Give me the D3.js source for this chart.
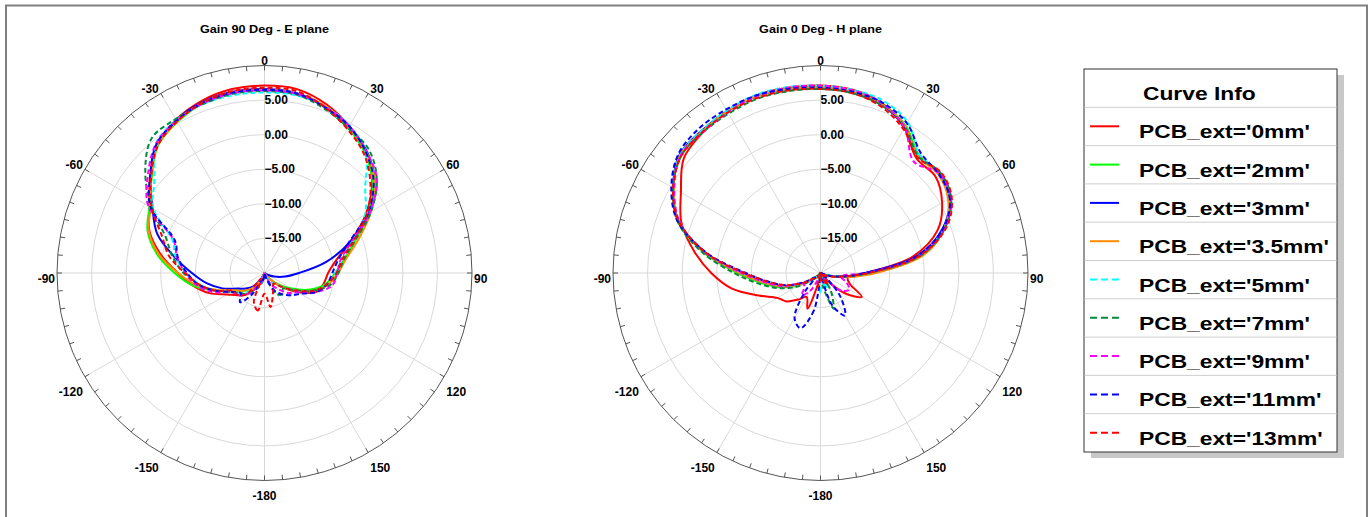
<!DOCTYPE html>
<html>
<head>
<meta charset="utf-8">
<script src="https://cdn.jsdelivr.net/npm/d3@7"></script>
<style>
  html, body { margin: 0; padding: 0; background: #fff; }
  svg { display: block; font-family: "Liberation Sans", Arial, Helvetica, sans-serif; }
</style>
</head>
<body>
<svg id="chart" width="1370" height="517"></svg>
<script>
// Angles (deg) of the sampled points, 0 at top, clockwise positive
const angles = [-180, -170, -160, -150, -140, -130, -120, -110, -100, -90, -80, -70,
                -60, -50, -40, -30, -20, -10, 0, 10, 20, 30, 40, 50,
                60, 70, 80, 90, 100, 110, 120, 130, 140, 150, 160, 170];

// Gain (dB) - E plane, phi = 90 deg
const ePlane0mm   = [-25,-21,-20,-17.5,-16,-15,-13.8,-11.5,-9.5,-7.5,-4.8,-2.3,-0.8,1.6,4.2,5.6,6.5,7.0,7.1,7.0,6.0,4.5,2.8,0.3,-3.1,-6.8,-9.5,-10.8,-11.3,-12,-14.5,-17,-19,-21,-22,-23];
const ePlane2mm   = [-24,-22,-20,-18.5,-17,-16,-15,-12.5,-9.5,-7,-4.2,-2,-0.8,1.3,4.0,5.2,6.1,6.5,6.5,6.3,5.5,4.2,2.6,0.4,-2.6,-6,-8.2,-9.8,-11,-13,-15.5,-17.5,-19,-21,-22,-23];
const ePlane3mm   = [-24,-22,-21,-19,-17.5,-16.5,-15.5,-13.5,-11.5,-9.5,-6.8,-3.5,-1.3,1.5,4.2,5.5,6.3,6.6,6.6,6.4,5.6,4.4,3.0,0.8,-2.5,-6.8,-11,-15,-17,-18.5,-19.5,-21,-22,-23,-24,-25];
const ePlane3p5mm = [-24,-22,-20.5,-18.5,-17,-16,-15,-12.8,-10,-7.5,-4.5,-2.2,-1,1.4,4.1,5.3,6.2,6.5,6.5,6.4,5.7,4.4,2.9,0.8,-2.2,-5.5,-8,-9.4,-10.6,-12.5,-15,-17,-19,-21,-22,-23];
const ePlane5mm   = [-23,-20,-18.5,-17.5,-16.5,-15.5,-14.5,-12.5,-10.5,-8.7,-7,-5.8,-1.5,0.8,4.4,5.5,6.0,6.1,6.1,6.1,5.6,4.6,2.8,-1.0,-3.2,-6.5,-8.6,-9.8,-10.8,-12.5,-15,-17,-18,-19,-20,-21];
const ePlane7mm   = [-22,-19,-18,-17,-16,-15.5,-14.5,-12.5,-10.3,-8.3,-6.5,-4.8,-1.2,2.5,5.4,5.7,6.0,6.3,6.3,6.2,5.3,4.2,3.4,1.2,-2.2,-6,-8.3,-9.3,-10.3,-12.5,-15,-16.5,-16,-16.5,-19,-20];
const ePlane9mm   = [-23,-20,-18.5,-17.5,-16,-15,-14.5,-12,-10,-8.6,-7.2,-6.0,-0.6,2.0,4.4,5.4,6.1,6.4,6.4,6.3,5.6,4.5,2.9,1.2,-2.4,-6.5,-8.8,-9.5,-10,-12,-14.5,-15.5,-17,-18,-19.5,-20];
const ePlane11mm  = [-22,-19,-19,-16.5,-14.5,-15.5,-14.5,-12.5,-10.3,-8.8,-7.3,-6.2,-1.0,1.6,4.3,5.4,6.2,6.5,6.5,6.4,5.5,4.5,2.8,0.6,-2.8,-7,-9.2,-10.2,-10.8,-12,-14,-15,-16,-17,-19,-21];
const ePlane13mm  = [-17,-14.5,-15.5,-19,-16,-15,-14.8,-12.5,-10.4,-8.5,-6.0,-4.2,-1.2,1.4,4.0,5.3,6.2,6.7,6.8,6.7,5.5,4.0,2.4,0.0,-2.9,-6.3,-8.6,-9.6,-10.8,-12.5,-15,-17,-18,-17.5,-16.5,-15];

// Gain (dB) - H plane, phi = 0 deg
const hPlane0mm   = [-21,-19,-14.5,-16,-15,-13.6,-12.8,-10.5,-7,-4.2,-1.4,1.4,3.3,5.8,6.5,7.0,7.3,7.2,7.1,6.9,6.1,4.2,1.6,1.7,0.3,-2.0,-6.5,-13.5,-16,-15.5,-13.1,-15.5,-19,-21,-22,-22];
const hPlane2mm   = [-22,-21,-20,-20,-20,-19,-16.5,-14,-11.5,-8,-2.8,2.0,4.6,6.4,6.7,7.0,7.2,7.0,6.8,6.6,6.0,4.6,2.2,2.5,1.6,-1.0,-5.5,-13,-17,-19,-20,-21,-21,-22,-22,-22];
const hPlane3mm   = [-22,-21,-20,-20,-19.5,-18.5,-16.8,-14.3,-12,-8.6,-3.1,1.8,4.6,6.6,6.8,7.0,7.2,7.0,6.8,6.5,5.9,4.4,2.0,2.4,1.5,-1.2,-5.8,-13.5,-17,-19,-20,-21,-21,-21,-22,-22];
const hPlane3p5mm = [-22,-21,-20.5,-20,-19.5,-18.5,-16.6,-14.2,-11.8,-8.3,-3.0,1.9,4.5,6.5,6.7,7.0,7.2,7.0,6.8,6.6,6.0,4.5,2.0,2.2,1.3,-0.9,-4.8,-12,-16.5,-19,-20,-21,-21,-22,-22,-22];
const hPlane5mm   = [-17,-19,-20,-20,-19.5,-18.5,-16.8,-14.5,-12.2,-8.6,-3.2,1.7,4.5,6.5,6.8,7.1,7.4,7.3,7.1,6.9,6.5,5.2,2.3,2.5,1.6,-1.0,-5.6,-13,-17,-19,-19,-20,-20,-18.5,-17.5,-19];
const hPlane7mm   = [-20,-21,-20,-20,-19.5,-18.5,-16,-13.6,-11,-7.5,-2.6,2.0,4.6,6.3,6.5,6.6,6.8,6.7,6.6,6.4,5.8,4.4,2.0,2.6,1.8,-0.8,-5.2,-13,-17,-19,-20,-20,-20,-17,-14.5,-18];
const hPlane9mm   = [-20,-20,-19,-17,-15.8,-17,-17,-14.4,-12,-8.6,-3.1,1.7,4.4,6.4,6.5,6.8,7.2,7.2,7.1,6.8,6.1,4.3,1.0,2.4,1.7,-1.0,-5.6,-13.5,-17,-16,-15.2,-16,-18.5,-20,-21,-21];
const hPlane11mm  = [-21,-14.5,-11.5,-12.5,-16.5,-19,-17.5,-14.8,-12.5,-9.2,-3.3,2.0,4.9,6.8,7.3,7.3,7.3,7.0,6.8,6.6,6.2,5.0,2.6,2.3,1.6,-1.1,-5.8,-13.5,-17,-19,-20,-19,-15.5,-12.9,-15,-20];
const hPlane13mm  = [-19,-18,-19,-19.5,-19.5,-19,-17.2,-14.8,-12.5,-9,-3.2,1.8,4.6,6.3,6.6,6.8,6.9,6.8,6.6,6.4,5.6,4.0,1.8,2.7,1.9,-0.6,-5.4,-13,-17,-18.5,-19.5,-20,-19,-18,-19,-20];

// Series info
const seriesNames  = ["PCB_ext='0mm'", "PCB_ext='2mm'", "PCB_ext='3mm'", "PCB_ext='3.5mm'", "PCB_ext='5mm'",
                      "PCB_ext='7mm'", "PCB_ext='9mm'", "PCB_ext='11mm'", "PCB_ext='13mm'"];
const seriesColors = ["#ff0000", "#00ff00", "#0000ff", "#ff8c00", "#00ffff", "#008c3c", "#ff00ff", "#0000ff", "#ff0000"];
const seriesDashed = [false, false, false, false, true, true, true, true, true];

// Axis ticks
const ringTicks   = [-15, -10, -5, 0, 5];
const angleLabels = [0, 30, 60, 90, 120, 150, 180, -150, -120, -90, -60, -30];
const angleText   = ["0", "30", "60", "90", "120", "150", "-180", "-150", "-120", "-90", "-60", "-30"];

const ePlaneSeries = [ePlane0mm, ePlane2mm, ePlane3mm, ePlane3p5mm, ePlane5mm, ePlane7mm, ePlane9mm, ePlane11mm, ePlane13mm];
const hPlaneSeries = [hPlane0mm, hPlane2mm, hPlane3mm, hPlane3p5mm, hPlane5mm, hPlane7mm, hPlane9mm, hPlane11mm, hPlane13mm];

// Options
const R = 207.5;          // outer circle radius
const centerY = 273;
const rDomain = [-20, 10];
const gridColor = "#d9d9d9";
const axisColor = "#555";

const svg = d3.select("#chart");
const rad = d => d * Math.PI / 180;

// Outer frame (open at the bottom)
svg.append("path")
  .attr("d", "M6,520V5.5H1367V520")
  .attr("fill", "none")
  .attr("stroke", "#808080")
  .attr("stroke-width", 2);

const drawPolar = (cx, title, series) => {
  const r = d3.scaleLinear().domain(rDomain).range([0, R]).clamp(true);
  const g = svg.append("g").attr("transform", `translate(${cx},${centerY})`);

  // Title
  svg.append("text")
    .attr("transform", `translate(${cx},32.5) scale(1.1,1)`)
    .attr("text-anchor", "middle")
    .attr("font-size", 11.5)
    .attr("font-weight", "bold")
    .text(title);

  // Grid rings and spokes
  g.append("g").selectAll("circle")
    .data(ringTicks)
    .join("circle")
      .attr("r", d => r(d))
      .attr("fill", "none")
      .attr("stroke", gridColor);
  g.append("g").selectAll("line")
    .data(angleLabels)
    .join("line")
      .attr("x2", d => R * Math.sin(rad(d)))
      .attr("y2", d => -R * Math.cos(rad(d)))
      .attr("stroke", gridColor);

  // Outer circle and 5 deg ticks
  g.append("circle")
    .attr("r", R)
    .attr("fill", "none")
    .attr("stroke", axisColor);
  g.append("g").selectAll("line")
    .data(d3.range(0, 360, 5))
    .join("line")
      .attr("x1", d => R * Math.sin(rad(d)))
      .attr("y1", d => -R * Math.cos(rad(d)))
      .attr("x2", d => (R - 5) * Math.sin(rad(d)))
      .attr("y2", d => -(R - 5) * Math.cos(rad(d)))
      .attr("stroke", axisColor);

  // Angle labels
  g.append("g")
    .attr("font-size", 12)
    .attr("font-weight", "bold")
    .selectAll("text")
    .data(angleLabels)
    .join("text")
      .attr("x", d => {
        const s = Math.sin(rad(d));
        return R * s + (s > 0.01 ? 2 : s < -0.01 ? -2 : 0);
      })
      .attr("y", d => {
        const c = Math.cos(rad(d));
        return -R * c + (c > 0.01 ? -0.5 : c < -0.01 ? 19 : 9.5);
      })
      .attr("text-anchor", d => {
        const s = Math.sin(rad(d));
        return s > 0.01 ? "start" : s < -0.01 ? "end" : "middle";
      })
      .text((d, i) => angleText[i]);

  // Radial labels
  g.append("g")
    .attr("font-size", 12)
    .attr("font-weight", "bold")
    .selectAll("text")
    .data(ringTicks)
    .join("text")
      .attr("x", 0)
      .attr("y", d => -r(d) + 4)
      .text(d => d3.format(".2f")(d));

  // Curves
  const line = d3.lineRadial()
    .angle(d => rad(d[0]))
    .radius(d => r(d[1]))
    .curve(d3.curveCatmullRomClosed.alpha(0.5));

  g.append("g").selectAll("path")
    .data(series)
    .join("path")
      .attr("d", vals => line(vals.map((v, i) => [angles[i], v])))
      .attr("fill", "none")
      .attr("stroke", (d, i) => seriesColors[i])
      .attr("stroke-width", 2)
      .attr("stroke-dasharray", (d, i) => seriesDashed[i] ? "5,3" : null)
      .attr("stroke-linejoin", "round");
};

drawPolar(264.5, "Gain 90 Deg - E plane", ePlaneSeries);
drawPolar(820.5, "Gain 0 Deg - H plane", hPlaneSeries);

// Legend
const legend = {x: 1084, y: 69, w: 253, rowH: 38.3};
const lg = svg.append("g");
lg.append("rect")
  .attr("x", legend.x + 7).attr("y", legend.y + 6)
  .attr("width", legend.w).attr("height", legend.rowH * 10)
  .attr("fill", "#c8c8c8");
lg.append("rect")
  .attr("x", legend.x).attr("y", legend.y)
  .attr("width", legend.w).attr("height", legend.rowH * 10)
  .attr("fill", "#fff")
  .attr("stroke", "#333");
lg.selectAll("line.sep")
  .data(d3.range(1, 10))
  .join("line")
    .attr("class", "sep")
    .attr("x1", legend.x + 0.5).attr("x2", legend.x + legend.w - 0.5)
    .attr("y1", d => legend.y + d * legend.rowH)
    .attr("y2", d => legend.y + d * legend.rowH)
    .attr("stroke", "#cfcfcf");
lg.append("text")
  .attr("transform", `translate(${legend.x + 59},${legend.y + 31}) scale(1.2,1)`)
  .attr("font-size", 19)
  .attr("font-weight", "bold")
  .text("Curve Info");

const rows = lg.selectAll("g.row")
  .data(seriesNames)
  .join("g")
    .attr("class", "row")
    .attr("transform", (d, i) => `translate(0,${legend.y + (i + 1) * legend.rowH})`);
rows.append("line")
  .attr("x1", legend.x + 6).attr("x2", legend.x + 35)
  .attr("y1", 19).attr("y2", 19)
  .attr("stroke", (d, i) => seriesColors[i])
  .attr("stroke-width", 2)
  .attr("stroke-dasharray", (d, i) => seriesDashed[i] ? "7,4" : null);
rows.append("text")
  .attr("transform", `translate(${legend.x + 55},31) scale(1.2,1)`)
  .attr("font-size", 19)
  .attr("font-weight", "bold")
  .text(d => d);
</script>
</body>
</html>
